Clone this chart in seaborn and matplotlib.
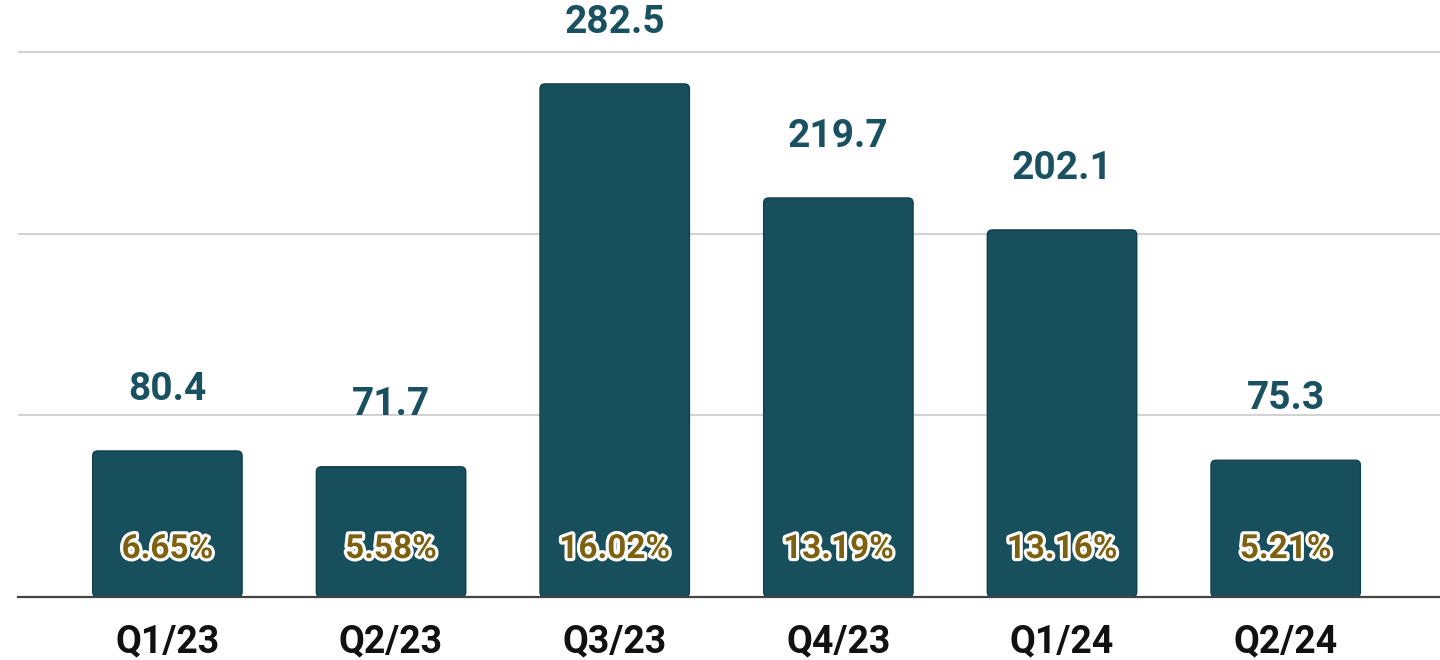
import matplotlib
matplotlib.use("Agg")
import matplotlib.pyplot as plt
import matplotlib.patheffects as pe
from matplotlib.patches import FancyBboxPatch
import seaborn as sns
import pandas as pd

quarters = ["Q1/23", "Q2/23", "Q3/23", "Q4/23", "Q1/24", "Q2/24"]
values = [80.4, 71.7, 282.5, 219.7, 202.1, 75.3]
percents = ["6.65%", "5.58%", "16.02%", "13.19%", "13.16%", "5.21%"]

sns.set_theme(style="white")
plt.rcParams['font.family'] = ['Roboto', 'DejaVu Sans']

df = pd.DataFrame({"quarter": quarters, "value": values})

fig = plt.figure(figsize=(14.4, 6.6), dpi=100)
ax = fig.add_axes([18/1440, 63/660, 1 - 18/1440, 597/660])

bar_color = "#174f5c"
sns.barplot(data=df, x="quarter", y="value", color=bar_color, width=0.668,
            saturation=1, ax=ax, zorder=3)

ax.set_xlim(-0.668, 5.69)
ax.set_ylim(0, 328.7)

# rounded corners
px_x = 1422 / (5.69 + 0.668)
px_y = 597 / 328.7
r = 5 / px_x
new = []
for p in list(ax.patches):
    x, y = p.get_x(), p.get_y()
    w, h = p.get_width(), p.get_height()
    fb = FancyBboxPatch((x, y), w, h,
                        boxstyle=f"round,pad=0,rounding_size={r}",
                        mutation_aspect=px_x / px_y,
                        facecolor=bar_color, edgecolor="#123f4a", linewidth=1.0,
                        zorder=3)
    p.remove()
    ax.add_patch(fb)

ax.set_yticks([100, 200, 300])
ax.yaxis.grid(True, color="#d2d2d2", linewidth=1.5)
ax.set_axisbelow(True)
ax.tick_params(axis="y", left=False, labelleft=False)
ax.tick_params(axis="x", length=0, pad=19)
for lab in ax.get_xticklabels():
    lab.set_fontsize(27)
    lab.set_fontweight("bold")
    lab.set_color("#111111")
ax.set_xlabel("")
ax.set_ylabel("")
for s in ["top", "right", "left"]:
    ax.spines[s].set_visible(False)
ax.spines["bottom"].set_color("#444444")
ax.spines["bottom"].set_linewidth(1.6)
ax.spines["bottom"].set_zorder(4)

for i, (v, pct) in enumerate(zip(values, percents)):
    ax.annotate(f"{v:.1f}", xy=(i, v), xytext=(0, 44.5), textcoords="offset points",
                ha="center", va="center", fontsize=28, fontweight="bold",
                color="#1a5160", zorder=5)
    ax.text(i, 26.4, pct, ha="center", va="center", fontsize=24,
            fontweight="bold", color="#7d6010", zorder=6,
            path_effects=[pe.withStroke(linewidth=4.5, foreground="white")])

fig.savefig("out.png", dpi=100)
